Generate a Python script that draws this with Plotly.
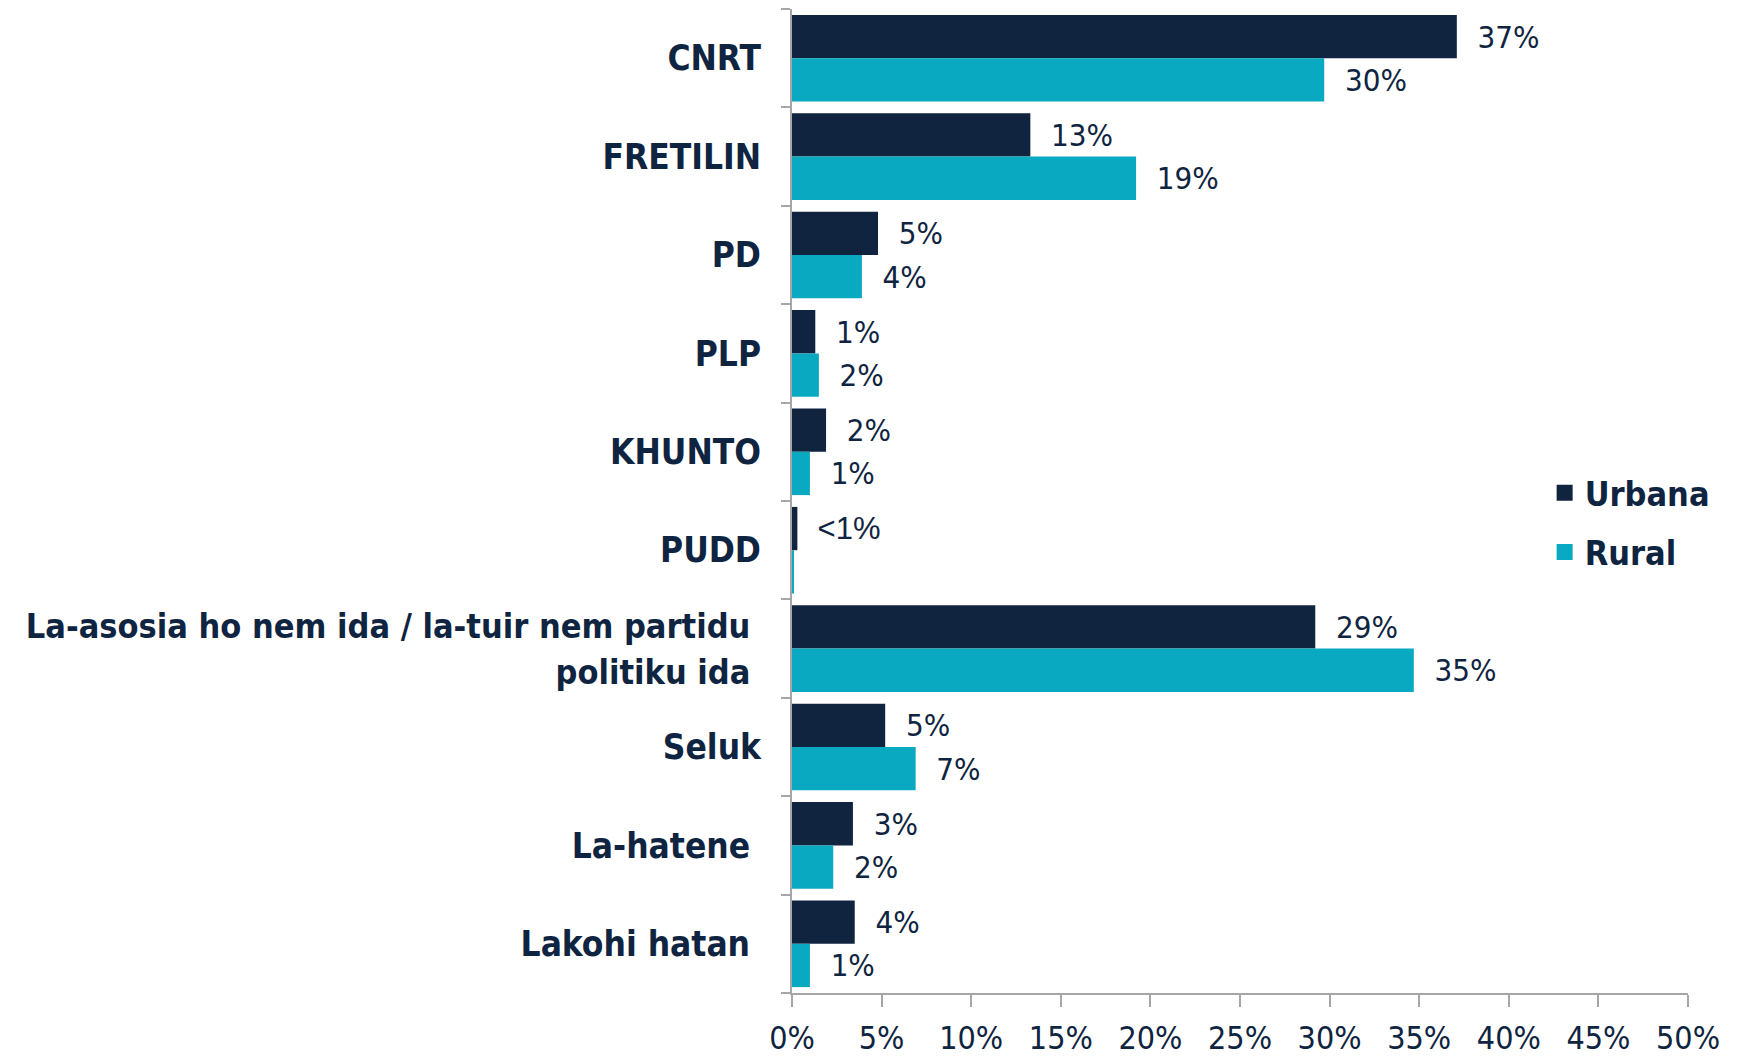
import plotly.graph_objects as go

categories = ["CNRT", "FRETILIN", "PD", "PLP", "KHUNTO", "PUDD",
              "La-asosia ho nem ida / la-tuir nem partidu politiku ida",
              "Seluk", "La-hatene", "Lakohi hatan"]
category_tick_labels = ["CNRT", "FRETILIN", "PD", "PLP", "KHUNTO", "PUDD",
                        "<span style='font-size:34px'>La-asosia ho nem ida / la-tuir nem partidu\u00a0</span><br>"
                        "<span style='font-size:34px'>politiku ida\u00a0</span>",
                        "Seluk", "La-hatene\u00a0", "Lakohi hatan\u00a0"]
urbana = [37.1, 13.3, 4.8, 1.3, 1.9, 0.3, 29.2, 5.2, 3.4, 3.5]
rural = [29.7, 19.2, 3.9, 1.5, 1.0, 0.1, 34.7, 6.9, 2.3, 1.0]
urbana_labels = ["37%", "13%", "5%", "1%", "2%", "<1%", "29%", "5%", "3%", "4%"]
rural_labels = ["30%", "19%", "4%", "2%", "1%", "", "35%", "7%", "2%", "1%"]
x_ticks = [0, 5, 10, 15, 20, 25, 30, 35, 40, 45, 50]
x_tick_labels = [f"{v}%" for v in x_ticks]

NAVY = "#10233F"
TEAL = "#09A9C1"
TXT = "#0F2440"
COND = "DejaVu Sans Condensed, DejaVu Sans, sans-serif"

def fam(labels):
    return ["Liberation Sans, Arial, sans-serif" if l.startswith("<") else COND for l in labels]

fig = go.Figure()
fig.add_trace(go.Bar(
    y=categories, x=urbana, name="Urbana", orientation="h",
    marker=dict(color=NAVY, line=dict(width=0)),
    text=urbana_labels, texttemplate="  %{text}", textposition="outside",
    textfont=dict(family=fam(urbana_labels), size=31, color=TXT),
    constraintext="none", cliponaxis=False, showlegend=False,
))
fig.add_trace(go.Bar(
    y=categories, x=rural, name="Rural", orientation="h",
    marker=dict(color=TEAL, line=dict(width=0)),
    text=rural_labels, texttemplate="  %{text}", textposition="outside",
    textfont=dict(family=fam(rural_labels), size=31, color=TXT),
    constraintext="none", cliponaxis=False, showlegend=False,
))
# legend entries with larger square symbols
for name, col, grp in [("Urbana", NAVY, "u"), ("Rural", TEAL, "r")]:
    fig.add_trace(go.Scatter(
        x=[None], y=[None], mode="markers", name=name, legendgroup=grp,
        marker=dict(symbol="square", size=20, color=col), hoverinfo="skip",
    ))

fig.update_layout(
    width=1737, height=1050,
    margin=dict(l=784, r=57, t=1, b=65, autoexpand=False),
    paper_bgcolor="white", plot_bgcolor="white",
    barmode="group", bargap=0.12, bargroupgap=0,
    showlegend=True,
    legend=dict(x=0.84, y=0.478, xanchor="left", yanchor="middle",
                font=dict(family=COND, size=34, color=TXT, weight="bold"),
                tracegroupgap=12, traceorder="grouped", bgcolor="rgba(0,0,0,0)",
                itemwidth=30),
    xaxis=dict(range=[0, 50], tickvals=x_ticks, ticktext=x_tick_labels,
               showgrid=False, zeroline=False, showline=True, automargin=False,
               linecolor="#A6A6A6", linewidth=2,
               ticks="outside", ticklen=12, tickwidth=2, tickcolor="#A6A6A6",
               ticklabelstandoff=4,
               tickfont=dict(family=COND, size=32, color=TXT)),
    yaxis=dict(autorange="reversed", showgrid=False, zeroline=False, automargin=False,
               tickmode="array", tickvals=categories, ticktext=category_tick_labels,
               showline=True, linecolor="#A6A6A6", linewidth=2,
               ticks="outside", ticklen=9, tickwidth=2, tickcolor="#A6A6A6",
               tickson="boundaries", ticklabelstandoff=22,
               tickfont=dict(family=COND, size=35, color=TXT, weight="bold")),
)

fig.write_html("out.html")
